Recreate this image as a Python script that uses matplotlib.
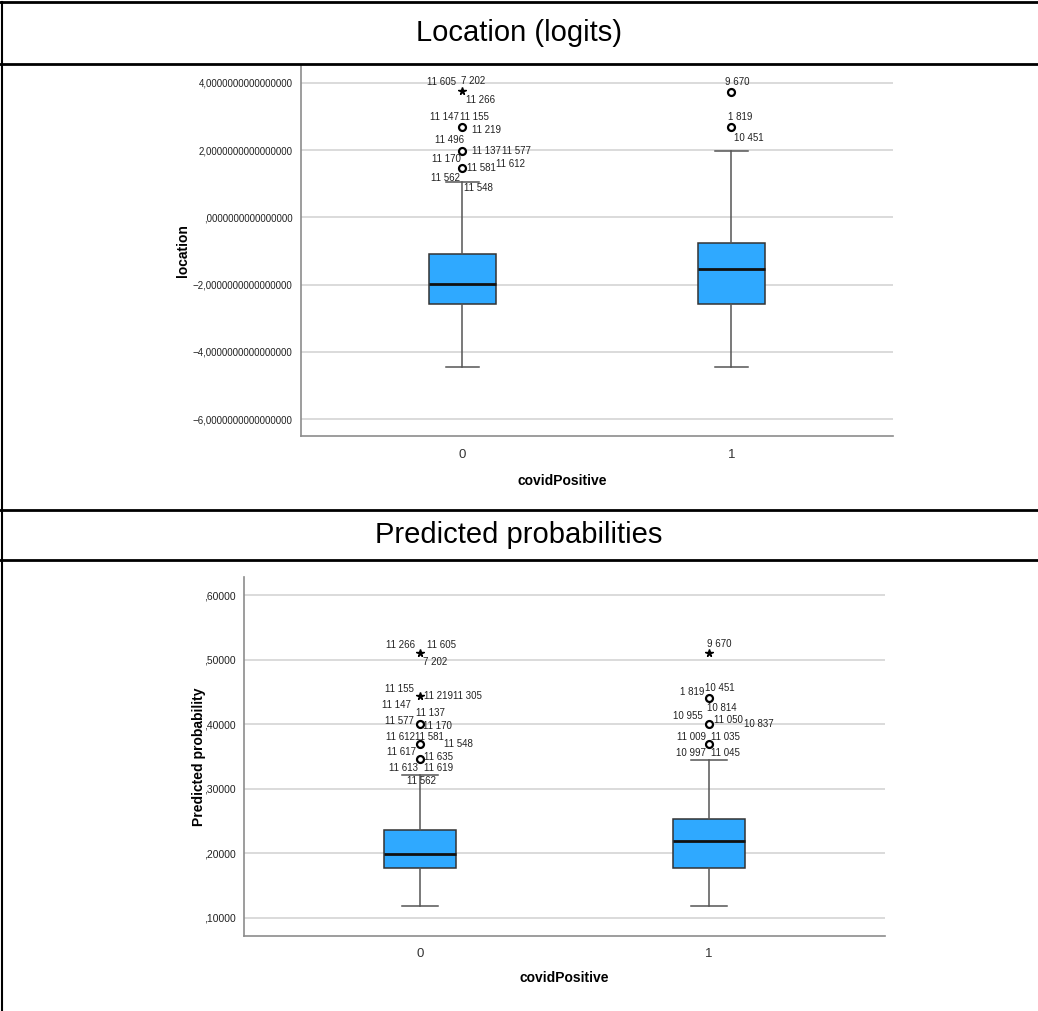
import numpy as np
import matplotlib
matplotlib.use("Agg")
from matplotlib import pyplot as plt
from matplotlib.lines import Line2D

plt.rcParams['font.family'] = ['Liberation Sans', 'DejaVu Sans']

# --- Location (logits), by covidPositive group ---
groups = ['0', '1']
loc_q1 = [-2.57, -2.57]
loc_med = [-1.97, -1.52]
loc_q3 = [-1.10, -0.75]
loc_lo = [-4.45, -4.45]
loc_hi = [1.04, 1.97]
loc_out = [[3.76, 2.69, 1.97, 1.46], [3.73, 2.69]]
loc_extreme = [[True, False, False, False], [False, False]]
loc_cases = [
    [['11 605', '7 202', '11 266'],
     ['11 147', '11 155', '11 219'],
     ['11 496', '11 137', '11 577'],
     ['11 170', '11 581', '11 612', '11 562', '11 548']],
    [['9 670'],
     ['1 819', '10 451']],
]

# --- Predicted probabilities, by covidPositive group ---
prob_q1 = [0.177, 0.177]
prob_med = [0.1985, 0.2186]
prob_q3 = [0.2356, 0.2526]
prob_lo = [0.118, 0.118]
prob_hi = [0.322, 0.344]
prob_out = [[0.5096, 0.443, 0.400, 0.369, 0.3455], [0.510, 0.441, 0.400, 0.369]]
prob_extreme = [[True, True, False, False, False], [True, False, False, False]]
prob_cases = [
    [['11 266', '11 605', '7 202'],
     ['11 155', '11 147', '11 219', '11 305'],
     ['11 137', '11 577', '11 170'],
     ['11 612', '11 581', '11 548', '11 617'],
     ['11 635', '11 613', '11 619', '11 562']],
    [['9 670'],
     ['1 819', '10 451', '10 814'],
     ['10 955', '11 050', '10 837'],
     ['11 009', '11 035', '10 997', '11 045']],
]

# label placement (pixel offsets from the marker, horizontal alignment)
loc_offsets = [
    [[(-6, -9, 'right'), (-1, -10, 'left'), (4, 9, 'left')],
     [(-4, -10, 'right'), (-2, -10, 'left'), (10, 3, 'left')],
     [(2, -11, 'right'), (10, 0, 'left'), (40, 0, 'left')],
     [(-2, -9, 'right'), (5, 0, 'left'), (34, -4, 'left'), (-2, 10, 'right'), (2, 20, 'left')]],
    [[(-6, -10, 'left')],
     [(-3, -10, 'left'), (3, 11, 'left')]],
]
prob_offsets = [
    [[(-5, -8, 'right'), (7, -8, 'left'), (3, 9, 'left')],
     [(-6, -7, 'right'), (-9, 9, 'right'), (4, 0, 'left'), (33, 0, 'left')],
     [(-4, -11, 'left'), (-6, -3, 'right'), (3, 2, 'left')],
     [(-5, -7, 'right'), (-5, -7, 'left'), (24, 0, 'left'), (-4, 8, 'right')],
     [(4, -2, 'left'), (-2, 9, 'right'), (4, 9, 'left'), (-13, 22, 'left')]],
    [[(-2, -9, 'left')],
     [(-4, -6, 'right'), (-4, -10, 'left'), (-2, 10, 'left')],
     [(-6, -8, 'right'), (5, -4, 'left'), (35, 0, 'left')],
     [(-3, -7, 'right'), (2, -7, 'left'), (-3, 9, 'right'), (2, 9, 'left')]],
]

BOX = '#2FA9FF'
GRID = '#D4D4D4'
SPINE = '#8C8C8C'


def draw_boxes(ax, q1, med, q3, lo, hi, outs, extreme, cases, offsets):
    stats = []
    for i in range(len(groups)):
        stats.append({'q1': q1[i], 'med': med[i], 'q3': q3[i],
                      'whislo': lo[i], 'whishi': hi[i], 'fliers': []})
    ax.bxp(stats, positions=range(len(groups)), widths=0.25, patch_artist=True,
           showfliers=False,
           boxprops=dict(facecolor=BOX, edgecolor='#333333', linewidth=1.1),
           medianprops=dict(color='#111111', linewidth=2),
           whiskerprops=dict(color='#555555', linewidth=1.1),
           capprops=dict(color='#555555', linewidth=1.1),
           capwidths=0.125, zorder=3)
    for i in range(len(groups)):
        for v, ext, labs, offs in zip(outs[i], extreme[i], cases[i], offsets[i]):
            if ext:
                ax.plot(i, v, marker='*', ms=5.5, color='black', zorder=4)
            else:
                ax.plot(i, v, marker='o', ms=5, mfc='white', mec='black',
                        mew=1.6, zorder=4)
            for lab, (dx, dy, ha) in zip(labs, offs):
                ax.annotate(lab, (i, v), xytext=(dx * 0.72, -dy * 0.72),
                            textcoords='offset points', ha=ha, va='center',
                            fontsize=7, color='#222222', zorder=5)


def style_axes(ax, ticks, fmt, ylabel, ylab_x, xlab_x, xlab_y, tick_size):
    ax.set_xlim(-0.6, 1.6)
    ax.set_yticks(ticks)
    ax.set_yticklabels([fmt(t) for t in ticks], fontsize=tick_size, color='#222222')
    ax.set_xticks(range(len(groups)))
    ax.set_xticklabels(groups, fontsize=9.5, color='#333333')
    ax.tick_params(length=0, pad=6)
    ax.tick_params(axis='x', pad=9)
    ax.grid(axis='y', color=GRID, linewidth=1.2, zorder=0)
    ax.set_axisbelow(True)
    for s in ['top', 'right']:
        ax.spines[s].set_visible(False)
    for s in ['left', 'bottom']:
        ax.spines[s].set_color(SPINE)
        ax.spines[s].set_linewidth(1.2)
    ax.set_ylabel(ylabel, fontsize=10, fontweight='bold')
    ax.yaxis.set_label_coords(ylab_x, 0.5)
    ax.set_xlabel('covidPositive', fontsize=10, fontweight='bold')
    ax.xaxis.set_label_coords(xlab_x, xlab_y)


def fmt_loc(t):
    s = '%.16f' % t
    s = s.replace('.', ',').replace('-', '\u2212')
    if s.startswith('0,'):
        s = s[1:]
    return s


def fmt_prob(t):
    return ('%.5f' % t)[1:].replace('.', ',')


fig = plt.figure(figsize=(10.38, 10.11), dpi=100)

ax1 = fig.add_axes([0.290, 0.5687, 0.570, 0.366])
draw_boxes(ax1, loc_q1, loc_med, loc_q3, loc_lo, loc_hi,
           loc_out, loc_extreme, loc_cases, loc_offsets)
style_axes(ax1, [-6, -4, -2, 0, 2, 4], fmt_loc, 'location',
           -0.1875, 0.441, -0.103, 7)
ax1.set_ylim(-6.5, 4.5)

ax2 = fig.add_axes([0.235, 0.0742, 0.6176, 0.3551])
draw_boxes(ax2, prob_q1, prob_med, prob_q3, prob_lo, prob_hi,
           prob_out, prob_extreme, prob_cases, prob_offsets)
style_axes(ax2, [0.1, 0.2, 0.3, 0.4, 0.5, 0.6], fmt_prob,
           'Predicted probability', -0.059, 0.5, -0.0975, 7.5)
ax2.set_ylim(0.072, 0.628)
ax2.set_xlim(-0.61, 1.61)

# table frame with section headers
for y in [0.998, 0.9367, 0.4955, 0.4461]:
    fig.add_artist(Line2D([0, 1], [y, y], color='black', linewidth=2))
fig.add_artist(Line2D([0.002, 0.002], [0, 0.998], color='black', linewidth=1.5))
fig.text(0.5, 0.967, 'Location (logits)', ha='center', va='center', fontsize=21)
fig.text(0.5, 0.4708, 'Predicted probabilities', ha='center', va='center', fontsize=21)

fig.savefig('out.png', dpi=100)
